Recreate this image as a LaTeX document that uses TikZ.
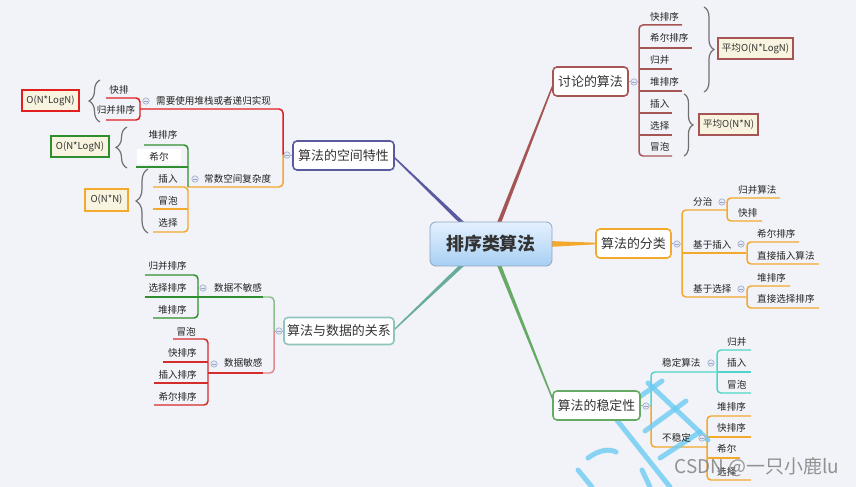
\documentclass[tikz,border=0pt]{standalone}
\usepackage{fontspec}
\setmainfont{Noto Sans CJK SC}
\usetikzlibrary{calc,decorations.pathreplacing}
\pgfdeclarelayer{back}
\pgfdeclarelayer{bgl}
\pgfsetlayers{back,bgl,main}
\definecolor{bgc}{HTML}{F2F3F8}
\definecolor{txt}{HTML}{222222}
\definecolor{txtb}{HTML}{333333}
\definecolor{tlc}{HTML}{A65555}
\definecolor{purc}{HTML}{5A5A9E}
\definecolor{orgc}{HTML}{F2A92E}
\definecolor{tealb}{HTML}{8FC5BD}
\definecolor{tealc}{HTML}{68AC9C}
\definecolor{grnc}{HTML}{66AA66}
\definecolor{turqc}{HTML}{4FD6C8}
\definecolor{dgrnc}{HTML}{2F8F2F}
\definecolor{lgrnc}{HTML}{8CC08C}
\definecolor{redc}{HTML}{D42B2B}
\definecolor{lredc}{HTML}{E08A8A}
\definecolor{rredc}{HTML}{E21F1F}
\definecolor{brgray}{HTML}{707070}
\definecolor{notefill}{HTML}{F8F4DF}
\definecolor{mkfill}{HTML}{E6EAF4}
\definecolor{mkline}{HTML}{9AA8C8}
\definecolor{ctop}{HTML}{E4F1FF}
\definecolor{cbot}{HTML}{A8CFF3}
\definecolor{cbord}{HTML}{8BA3C0}
\definecolor{wmc}{HTML}{6CCBF2}
\tikzset{
 lbl/.style={inner sep=0pt, font=\fontsize{9.6}{11}\selectfont, text=txt},
 topic/.style={draw, line width=1.6pt, rounded corners=4pt, fill=white, minimum height=29bp, inner sep=0pt, font=\fontsize{13}{15}\selectfont, text=txtb},
 br/.style={line width=1.5pt, rounded corners=4pt},
 bracestyle/.style={decorate, decoration={brace, amplitude=#1}, draw=brgray, line width=1.2pt},
 note/.style={draw, line width=1.6pt, fill=notefill, inner sep=0pt, minimum height=21bp, font=\fontsize{9.6}{11}\selectfont, text=txtb},
 mk/.style={draw=mkline, line width=0.6pt},
 wm/.style={draw=wmc, line width=5pt, opacity=0.8, line cap=round},
}
\newcommand\mkr[2]{\draw[mk, fill=mkfill] (#1,#2) circle (3.2); \draw[mk] (#1-1.8,#2) -- (#1+1.8,#2);}
\newcommand\taper[5]{\fill[#3] ($(#1)!#4!90:(#2)$) -- ($(#2)!#5!-90:(#1)$) -- ($(#2)!#5!90:(#1)$) -- ($(#1)!#4!-90:(#2)$) -- cycle;}
\begin{document}
\begin{tikzpicture}[x=1bp,y=-1bp]
\begin{pgfonlayer}{back}
\fill[bgc] (0,0) rectangle (856,487);
\end{pgfonlayer}
\useasboundingbox (0,0) rectangle (856,487);

% central and topic nodes
\node[draw=cbord, line width=0.8pt, rounded corners=6pt, top color=ctop, bottom color=cbot, minimum width=122bp, minimum height=44bp, inner sep=0pt, font=\fontsize{18}{20}\selectfont\bfseries, text=txtb] (c) at (491,244) {排序类算法};
\node[topic, draw=tlc, minimum width=75bp] (t1) at (590.5,81.5) {讨论的算法};
\node[topic, draw=purc, minimum width=101bp] (t2) at (343.5,155.5) {算法的空间特性};
\node[topic, draw=orgc, minimum width=75bp] (t3) at (633.5,243.5) {算法的分类};
\node[topic, draw=tealb, minimum width=110bp, minimum height=27bp] (t4) at (339,331) {算法与数据的关系};
\node[topic, draw=grnc, minimum width=87bp] (t5) at (596.5,405.5) {算法的稳定性};

\coordinate (r1) at ($(c.north)+(7,4)$);   \coordinate (r2) at ($(t1.west)+(1,3)$);
\coordinate (p1) at ($(c.north)+(-26,4)$); \coordinate (p2) at ($(t2.east)+(-1,1.5)$);
\coordinate (o1) at ($(c.east)+(-4,0)$);   \coordinate (o2) at ($(t3.west)+(1,0)$);
\coordinate (q1) at ($(c.south)+(-26,-4)$); \coordinate (q2) at ($(t4.east)+(-1,-1)$);
\coordinate (g1) at ($(c.south)+(7,-4)$);  \coordinate (g2) at ($(t5.west)+(1,-5)$);

\begin{pgfonlayer}{bgl}
\taper{r1}{r2}{tlc}{2bp}{0.7bp}
\taper{p1}{p2}{purc}{2bp}{0.7bp}
\taper{o1}{o2}{orgc}{3bp}{0.8bp}
\taper{q1}{q2}{tealc}{2bp}{0.6bp}
\taper{g1}{g2}{grnc}{2bp}{0.7bp}

% discussed algorithms
\draw[mk] (t1.east) -- (639,82);
\draw[br, tlc] (682,25) -- (639,25) -- (639,156) -- (672,156);
\draw[br, tlc] (639,48) -- (692,48);
\draw[br, tlc] (639,69) -- (672,69);
\draw[br, tlc] (639,91) -- (682,91);
\draw[br, tlc] (639,113) -- (672,113);
\draw[br, tlc] (639,135) -- (672,135);

% space branch
\draw[mk] (t2.west) -- (283,155);
\draw[br, rredc] (140,109) -- (283,109) -- (283,155);
\draw[br, orgc] (283,155) -- (283,187) -- (188,187);
\draw[br, rredc] (106,98) -- (140,98) -- (140,120) -- (106,120);
\draw[br, dgrnc] (144,145) -- (188,145) -- (188,187);
\draw[br, dgrnc] (136,167) -- (188,167);
\draw[br, orgc] (153,187) -- (188,187) -- (188,232) -- (153,232);
\draw[br, orgc] (153,209) -- (188,209);

% classification
\draw[mk] (t3.east) -- (682,244);
\draw[br, orgc] (727,210) -- (682,210) -- (682,297) -- (746,297);
\draw[br, orgc] (682,253) -- (746,253);
\draw[br, orgc] (780,198) -- (727,198) -- (727,221) -- (762,221);
\draw[br, orgc] (799,242) -- (747,242) -- (747,264) -- (819,264);
\draw[br, orgc] (790,286) -- (747,286) -- (747,308) -- (819,308);

% data relation
\draw[mk] (t4.west) -- (274,331);
\draw[br, lgrnc] (274,331) -- (274,297) -- (262,297);
\draw[br, dgrnc] (263,297) -- (197,297);
\draw[br, lredc] (274,331) -- (274,373) -- (262,373);
\draw[br, redc] (263,373) -- (208,373);
\draw[br, dgrnc] (145,275) -- (198,275) -- (198,318) -- (153,318);
\draw[br, dgrnc] (145,297) -- (198,297);
\draw[br, redc] (173,339) -- (208,339) -- (208,405) -- (154,405);
\draw[br, redc] (163,362) -- (208,362);
\draw[br, redc] (154,383) -- (208,383);

% stability
\draw[mk] (t5.east) -- (651,406);
\draw[br, turqc] (716,372) -- (651,372) -- (651,406);
\draw[br, orgc] (651,406) -- (651,447) -- (707,447);
\draw[br, turqc] (751,350) -- (717,350) -- (717,393) -- (751,393);
\draw[br, turqc] (717,372) -- (751,372);
\draw[br, orgc] (751,416) -- (707,416) -- (707,480) -- (751,480);
\draw[br, orgc] (707,437) -- (751,437);
\draw[br, orgc] (707,458) -- (740,458);

% watermark strokes
\draw[wm] (616,419) -- (670,487);
\draw[wm] (648,383) -- (708,440);
\draw[wm] (628,405) -- (662,381);
\draw[wm] (645,431) -- (686,401);
\draw[wm] (660,458) -- (700,432);
\draw[wm] (588,458) .. controls (600,449) and (610,449) .. (616,452);
\draw[wm] (578,470) -- (592,487);
\draw[wm] (642,470) -- (650,487);
\end{pgfonlayer}

% markers
\mkr{634}{82}
\mkr{287}{155}
\mkr{146}{101}
\mkr{195}{179}
\mkr{677}{244}
\mkr{722}{202}
\mkr{741}{244}
\mkr{741}{289}
\mkr{279}{331}
\mkr{203}{288}
\mkr{214}{364}
\mkr{646}{406}
\mkr{711}{363}
\mkr{702}{438}

% discussed algorithm labels
\node[lbl, anchor=west] (a1) at (650,17) {快排序};
\node[lbl, anchor=west] (a2) at (650,38) {希尔排序};
\node[lbl, anchor=west] (a3) at (650,60) {归并};
\node[lbl, anchor=west] (a4) at (650,82) {堆排序};
\node[lbl, anchor=west] (a5) at (650,104) {插入};
\node[lbl, anchor=west] (a6) at (650,126) {选择};
\node[lbl, anchor=west] (a7) at (650,147) {冒泡};
\draw[bracestyle=10pt] (704,7) -- (704,92);
\draw[bracestyle=9pt] (684,94) -- (684,156);
\node[note, draw=tlc, minimum width=75bp] (n1) at (755.5,48.5) {平均O(N*LogN)};
\node[note, draw=tlc, minimum width=59bp] (n2) at (728.5,124.5) {平均O(N*N)};

% space labels
\node[lbl, anchor=west] (s0) at (156,101) {需要使用堆栈或者递归实现};
\node[lbl, anchor=west] (s00) at (204,179) {常数空间复杂度};
\node[lbl] (s1) at (119,90) {快排};
\node[lbl] (s2) at (116,110) {归并排序};
\node[lbl] (s3) at (163,135) {堆排序};
\node[lbl, fill=white, minimum width=44bp, minimum height=15bp] (s4) at (159,156.5) {希尔};
\node[lbl] (s5) at (168,179) {插入};
\node[lbl] (s6) at (168,201) {冒泡};
\node[lbl] (s7) at (168,223) {选择};
\draw[bracestyle=11pt] (100,122) -- (100,80);
\draw[bracestyle=11pt] (127,168) -- (127,127);
\draw[bracestyle=12pt] (148,233) -- (148,169);
\node[note, draw=rredc, minimum width=57bp] (n3) at (50.5,100.5) {O(N*LogN)};
\node[note, draw=dgrnc, minimum width=58bp] (n4) at (80,146.5) {O(N*LogN)};
\node[note, draw=orgc, minimum width=43bp, minimum height=22bp] (n5) at (106.5,200) {O(N*N)};

% classification labels
\node[lbl, anchor=west] (f1) at (693,202) {分治};
\node[lbl, anchor=west] (f2) at (738,190) {归并算法};
\node[lbl, anchor=west] (f3) at (738,213) {快排};
\node[lbl, anchor=west] (f4) at (693,245) {基于插入};
\node[lbl, anchor=west] (f5) at (757,234) {希尔排序};
\node[lbl, anchor=west] (f6) at (757,256) {直接插入算法};
\node[lbl, anchor=west] (f7) at (693,289) {基于选择};
\node[lbl, anchor=west] (f8) at (757,278) {堆排序};
\node[lbl, anchor=west] (f9) at (757,299) {直接选择排序};

% data relation labels
\node[lbl, anchor=west] (d0) at (214,288) {数据不敏感};
\node[lbl, anchor=east] (d1) at (187,266) {归并排序};
\node[lbl, anchor=east] (d2) at (187,288) {选择排序};
\node[lbl, anchor=east] (d3) at (187,310) {堆排序};
\node[lbl, anchor=west] (d4) at (224,363) {数据敏感};
\node[lbl, anchor=east] (d5) at (196,332) {冒泡};
\node[lbl, anchor=east] (d6) at (197,353) {快排序};
\node[lbl, anchor=east] (d7) at (197,375) {插入排序};
\node[lbl, anchor=east] (d8) at (197,397) {希尔排序};

% stability labels
\node[lbl, anchor=west] (w0) at (662,363) {稳定算法};
\node[lbl, anchor=west] (w1) at (727,342) {归并};
\node[lbl, anchor=west] (w2) at (727,363) {插入};
\node[lbl, anchor=west] (w3) at (727,385) {冒泡};
\node[lbl, anchor=west] (w4) at (662,438) {不稳定};
\node[lbl, anchor=west] (w5) at (717,407) {堆排序};
\node[lbl, anchor=west] (w6) at (717,428) {快排序};
\node[lbl, anchor=west] (w7) at (717,449) {希尔};
\node[lbl, anchor=west] (w8) at (717,472) {选择};

% watermark text
\node[inner sep=0pt, font=\fontsize{19}{21}\selectfont, text=gray, opacity=0.85] (wmt) at (757,467) {CSDN @一只小鹿lu};
\end{tikzpicture}
\end{document}
